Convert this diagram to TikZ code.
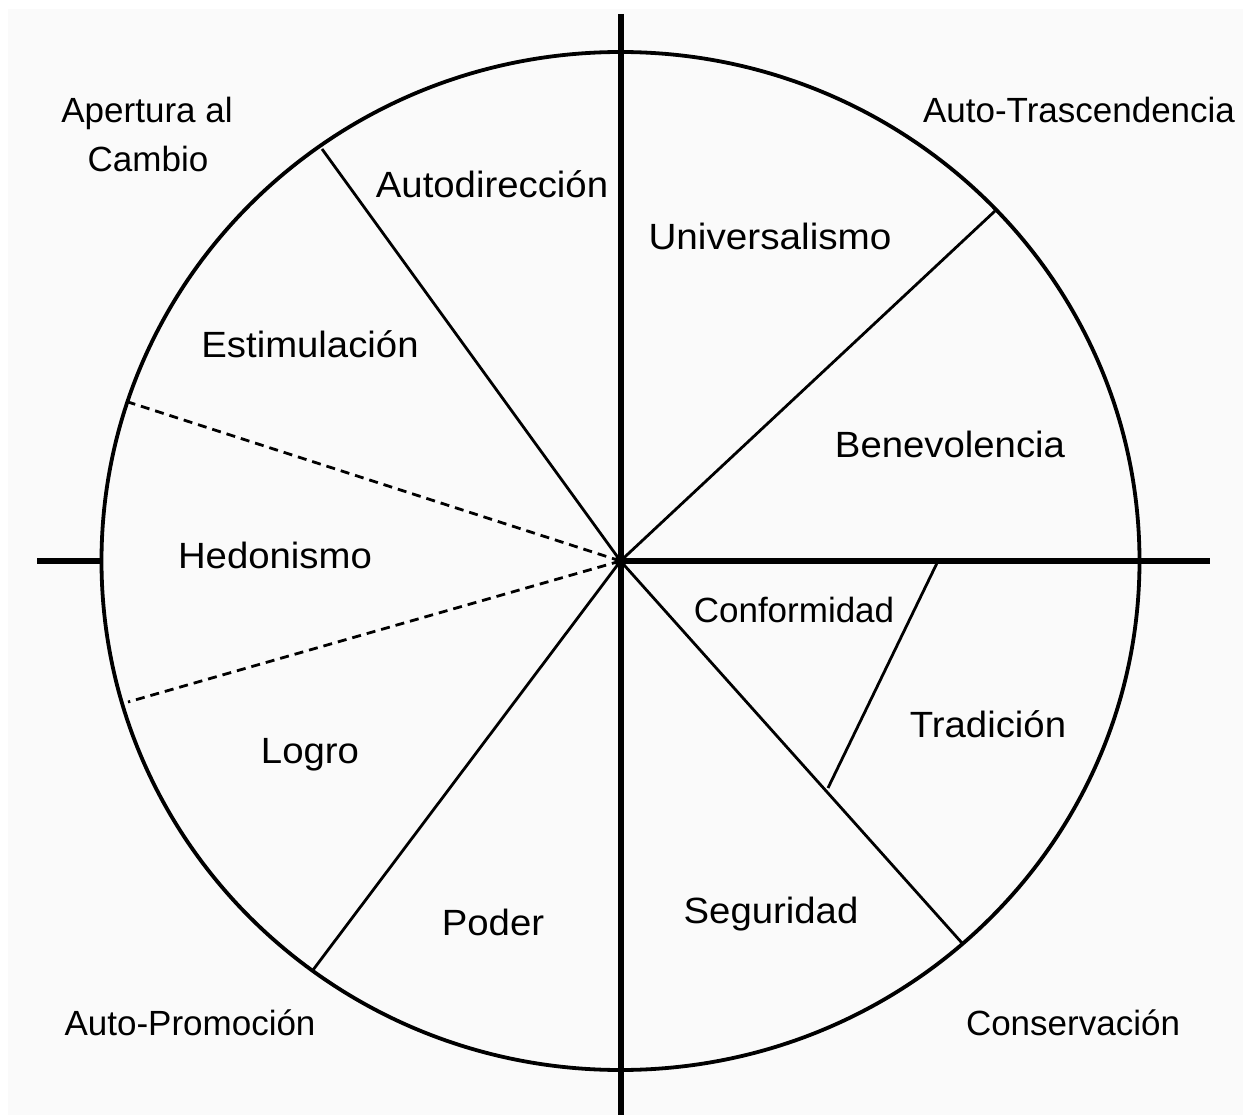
\documentclass[tikz,border=0pt]{standalone}
\usepackage{fontspec}
\setmainfont{Liberation Sans}
\begin{document}
\begin{tikzpicture}[x=1pt,y=-1pt,
  axis/.style={line width=6pt},
  rim/.style={line width=3.8pt},
  spoke/.style={line width=2.8pt},
  dspoke/.style={line width=2.8pt,dash pattern=on 9pt off 6pt},
  big/.style={anchor=base,font=\fontsize{36.5}{42}\selectfont,inner sep=0pt},
  corner/.style={anchor=base,font=\fontsize{35}{42}\selectfont,inner sep=0pt},
  small/.style={anchor=base,font=\fontsize{35}{42}\selectfont,inner sep=0pt}]
\useasboundingbox (0,0) rectangle (1243,1115);
\fill[white] (0,0) rectangle (1243,1115);
\fill[black!2] (8,9) rectangle (1243,1115);
% coordinates
\coordinate (O) at (620.5,561);
\coordinate (top) at (620.5,14);
\coordinate (bot) at (620.5,1115);
\coordinate (lft) at (37,561);
\coordinate (lrim) at (102,561);
\coordinate (rgt) at (1210,561);
\coordinate (pA) at (322,149);
\coordinate (pU) at (995,211);
\coordinate (pH1) at (128,402);
\coordinate (pH2) at (128,702);
\coordinate (pL) at (313,970);
\coordinate (pS) at (962,943);
\coordinate (pC1) at (938,561);
\coordinate (pC2) at (828,788);
% circle
\draw[rim] (O) ellipse [x radius=519, y radius=509];
% spokes
\draw[spoke] (O) -- (pA);
\draw[spoke] (O) -- (pU);
\draw[spoke] (O) -- (pL);
\draw[spoke] (O) -- (pS);
\draw[spoke] (pC1) -- (pC2);
\draw[dspoke] (O) -- (pH1);
\draw[dspoke] (O) -- (pH2);
% axes
\draw[axis] (top) -- (bot);
\draw[axis] (lft) -- (lrim);
\draw[axis] (O) -- (rgt);
\fill (O) circle (6);
% corner labels
\node[corner] (ap1) at (147,123) {Apertura al};
\node[corner] (ap2) at (148,172) {Cambio};
\node[corner] (at) at (1079,123) {Auto-Trascendencia};
\node[corner] (apr) at (190,1035) {Auto-Promoción};
\node[corner] (con) at (1073,1035) {Conservación};
% value labels
\node[big] (l1) at (492,198) {\scalebox{1.05}[1]{Autodirección}};
\node[big] (l2) at (770,250) {\scalebox{1.06}[1]{Universalismo}};
\node[big] (l3) at (310,358) {\scalebox{1.05}[1]{Estimulación}};
\node[big] (l4) at (950,457) {\scalebox{1.05}[1]{Benevolencia}};
\node[big] (l5) at (275,568) {\scalebox{1.05}[1]{Hedonismo}};
\node[small] (l6) at (794,622) {Conformidad};
\node[big] (l7) at (988,737) {\scalebox{1.05}[1]{Tradición}};
\node[big] (l8) at (310,763) {\scalebox{1.05}[1]{Logro}};
\node[big] (l9) at (771,923) {\scalebox{1.05}[1]{Seguridad}};
\node[big] (l10) at (493,935) {\scalebox{1.05}[1]{Poder}};
\end{tikzpicture}
\end{document}
